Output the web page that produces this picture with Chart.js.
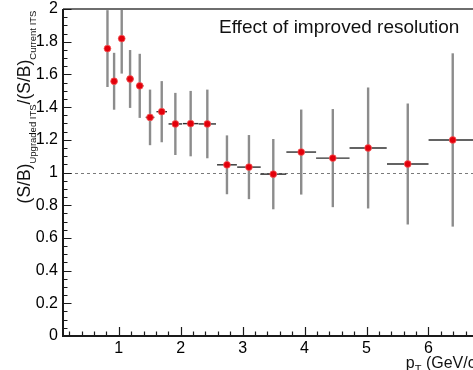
<!DOCTYPE html>
<html>
<head>
<meta charset="utf-8">
<script src="https://cdn.jsdelivr.net/npm/chart.js@4.4.1/dist/chart.umd.min.js"></script>
<style>
  html, body { margin: 0; padding: 0; background: #fff; width: 473px; height: 370px; overflow: hidden; }
  #wrap { position: absolute; left: 0; top: 0; width: 485px; height: 380px; }
</style>
</head>
<body>
<div id="wrap"><canvas id="c" width="485" height="380"></canvas></div>
<script>
// p_T bin centres (GeV/c) and half-widths
const pT    = [0.818, 0.925, 1.048, 1.183, 1.339, 1.505, 1.694, 1.914, 2.161, 2.430, 2.747, 3.102, 3.495, 3.946, 4.456, 5.026, 5.666, 6.392];
const pTErr = [0.040, 0.045, 0.050, 0.055, 0.060, 0.070, 0.085, 0.110, 0.125, 0.140, 0.160, 0.190, 0.210, 0.240, 0.270, 0.300, 0.335, 0.390];
// (S/B) upgraded / (S/B) current, with statistical errors
const ratio    = [1.758, 1.558, 1.819, 1.572, 1.530, 1.337, 1.372, 1.297, 1.299, 1.297, 1.047, 1.033, 0.990, 1.125, 1.088, 1.150, 1.052, 1.199];
const ratioErr = [0.235, 0.174, 0.214, 0.177, 0.196, 0.170, 0.187, 0.190, 0.200, 0.210, 0.180, 0.196, 0.215, 0.260, 0.300, 0.370, 0.370, 0.530];

const xTicks = [1, 2, 3, 4, 5, 6];
const xTickLabels = ['1', '2', '3', '4', '5', '6'];
const yTicks = [0, 0.2, 0.4, 0.6, 0.8, 1, 1.2, 1.4, 1.6, 1.8, 2];
const yTickLabels = ['0', '0.2', '0.4', '0.6', '0.8', '1', '1.2', '1.4', '1.6', '1.8', '2'];
const referenceLevel = 1;

const titleText = 'Effect of improved resolution';
const FONT = '"Liberation Sans", Arial, Helvetica, sans-serif';

// ROOT-style frame: inward ticks, dashed unity line, error bars and text
const rootStyle = {
  id: 'rootStyle',
  beforeDatasetsDraw(chart) {
    const { ctx, chartArea: a, scales: { x, y } } = chart;
    ctx.save();
    ctx.beginPath();
    ctx.rect(a.left, a.top, a.right - a.left, a.bottom - a.top);
    ctx.clip();

    // dashed line at ratio = 1
    const y1 = Math.round(y.getPixelForValue(referenceLevel)) + 0.5;
    ctx.strokeStyle = '#7a7a7a';
    ctx.lineWidth = 1;
    ctx.setLineDash([3, 3]);
    ctx.beginPath();
    ctx.moveTo(a.left, y1);
    ctx.lineTo(a.right, y1);
    ctx.stroke();
    ctx.setLineDash([]);

    // vertical (statistical) error bars
    ctx.strokeStyle = '#8c8c8c';
    ctx.lineWidth = 2.4;
    pT.forEach((px, i) => {
      const cx = x.getPixelForValue(px);
      ctx.beginPath();
      ctx.moveTo(cx, y.getPixelForValue(ratio[i] - ratioErr[i]));
      ctx.lineTo(cx, y.getPixelForValue(ratio[i] + ratioErr[i]));
      ctx.stroke();
    });
    // horizontal (bin width) bars
    ctx.strokeStyle = '#2f2f2f';
    ctx.lineWidth = 1.4;
    pT.forEach((px, i) => {
      const cy = y.getPixelForValue(ratio[i]);
      ctx.beginPath();
      ctx.moveTo(x.getPixelForValue(px - pTErr[i]), cy);
      ctx.lineTo(x.getPixelForValue(px + pTErr[i]), cy);
      ctx.stroke();
    });
    ctx.restore();
  },
  afterDraw(chart) {
    const { ctx, chartArea: a, scales: { x, y } } = chart;
    ctx.save();

    // frame
    ctx.strokeStyle = '#6e6e6e';
    ctx.lineWidth = 2;
    ctx.beginPath();
    ctx.moveTo(a.left, a.top);
    ctx.lineTo(a.right, a.top);
    ctx.lineTo(a.right, a.bottom);
    ctx.stroke();
    ctx.strokeStyle = '#1a1a1a';
    ctx.beginPath();
    ctx.moveTo(a.left, a.top);
    ctx.lineTo(a.left, a.bottom);
    ctx.lineTo(a.right, a.bottom);
    ctx.stroke();

    // inward ticks
    ctx.strokeStyle = '#1a1a1a';
    ctx.lineWidth = 1.2;
    ctx.beginPath();
    for (let k = 1; k * 0.2 <= x.max + 1e-9; k++) {
      const v = k * 0.2;
      if (v < x.min) continue;
      const px = Math.round(x.getPixelForValue(v)) + 0.5;
      const len = (k % 5 === 0) ? 9 : 4.5;
      ctx.moveTo(px, a.bottom);
      ctx.lineTo(px, a.bottom - len);
    }
    for (let k = 1; k * 0.05 <= y.max + 1e-9; k++) {
      const py = Math.round(y.getPixelForValue(k * 0.05)) + 0.5;
      const len = (k % 4 === 0) ? 8.5 : 4.5;
      ctx.moveTo(a.left, py);
      ctx.lineTo(a.left + len, py);
    }
    ctx.stroke();

    // title
    ctx.fillStyle = '#111';
    ctx.textBaseline = 'alphabetic';
    ctx.textAlign = 'left';
    ctx.font = '19px ' + FONT;
    ctx.fillText(titleText, 219, 33);

    // y-axis title: (S/B)_{Upgraded ITS}/(S/B)_{Current ITS}
    const parts = [
      { t: '(S/B)', size: 17.5, dv: 0 },
      { t: 'Upgraded ITS', size: 9.5, dv: 6 },
      { t: '/(S/B)', size: 17.5, dv: 0 },
      { t: 'Current ITS', size: 9.5, dv: 6 }
    ];
    let total = 0;
    parts.forEach(p => { ctx.font = p.size + 'px ' + FONT; p.w = ctx.measureText(p.t).width; total += p.w; });
    ctx.translate(29.5, 107 + total / 2);
    ctx.rotate(-Math.PI / 2);
    let u = 0;
    parts.forEach(p => {
      ctx.font = p.size + 'px ' + FONT;
      ctx.fillText(p.t, u, p.dv);
      u += p.w;
    });
    ctx.setTransform(1, 0, 0, 1, 0, 0);

    // x-axis title: p_T (GeV/c), right-aligned to the axis end
    const xParts = [
      { t: 'p', size: 16, dy: 0 },
      { t: 'T', size: 11, dy: 5 },
      { t: ' (GeV/c)', size: 16, dy: 0 }
    ];
    let xw = 0;
    xParts.forEach(p => { ctx.font = p.size + 'px ' + FONT; p.w = ctx.measureText(p.t).width; xw += p.w; });
    let cx = a.right + 3 - xw;
    xParts.forEach(p => {
      ctx.font = p.size + 'px ' + FONT;
      ctx.fillText(p.t, cx, 368 + p.dy);
      cx += p.w;
    });
    ctx.restore();
  }
};

const noEdgePadding = s => { s.paddingTop = 0; s.paddingBottom = 0; s.paddingLeft = 0; s.paddingRight = 0; };

const ctx = document.getElementById('c').getContext('2d');
new Chart(ctx, {
  type: 'scatter',
  data: {
    datasets: [{
      data: pT.map((v, i) => ({ x: v, y: ratio[i] })),
      backgroundColor: '#e3000b',
      borderColor: '#f35a5a',
      borderWidth: 0.8,
      pointRadius: 3.4,
      pointHoverRadius: 3.4
    }]
  },
  options: {
    responsive: false,
    animation: false,
    devicePixelRatio: 1,
    events: [],
    layout: { padding: { left: 0, top: 9, right: 7, bottom: 0 } },
    plugins: { legend: { display: false }, tooltip: { enabled: false } },
    scales: {
      x: {
        type: 'linear',
        min: 0.1,
        max: 6.8,
        afterBuildTicks: s => { s.ticks = xTicks.map(v => ({ value: v })); },
        afterFit: s => { s.height = 44; noEdgePadding(s); },
        grid: { display: false, drawTicks: false },
        border: { display: false },
        ticks: {
          autoSkip: false, maxRotation: 0, padding: 3, color: '#000',
          font: { family: FONT, size: 16 },
          callback: (v, i) => xTickLabels[i]
        }
      },
      y: {
        type: 'linear',
        min: 0,
        max: 2,
        afterBuildTicks: s => { s.ticks = yTicks.map(v => ({ value: v })); },
        afterFit: s => { s.width = 63; noEdgePadding(s); },
        grid: { display: false, drawTicks: false },
        border: { display: false },
        ticks: {
          autoSkip: false, padding: 5, color: '#000',
          font: { family: FONT, size: 16 },
          callback: (v, i) => yTickLabels[i]
        }
      }
    }
  },
  plugins: [rootStyle]
});
</script>
</body>
</html>
